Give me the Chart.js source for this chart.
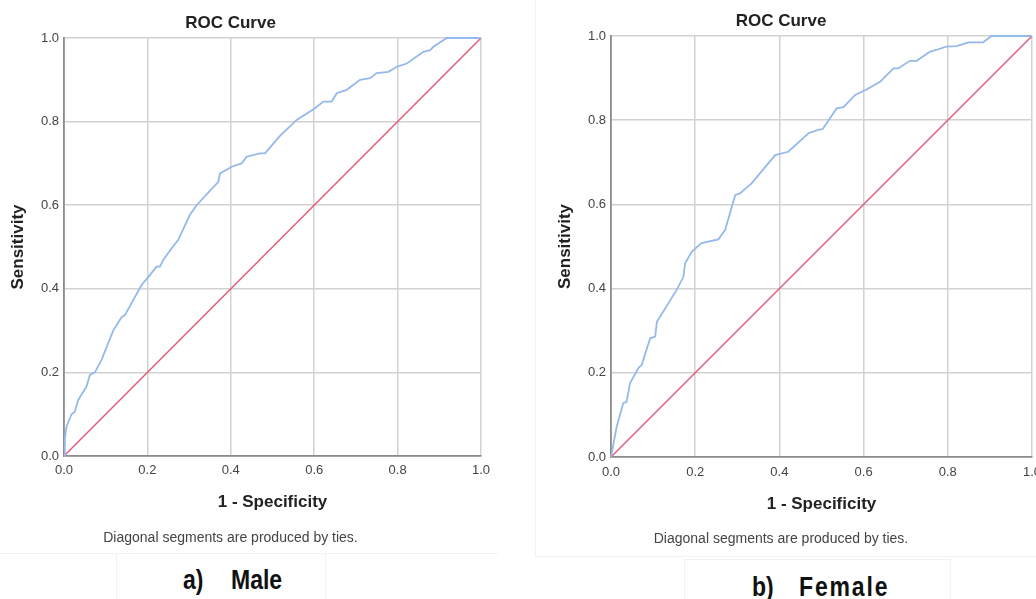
<!DOCTYPE html>
<html><head><meta charset="utf-8">
<script src="https://cdn.jsdelivr.net/npm/chart.js@4.4.0/dist/chart.umd.min.js"></script>
<style>
html,body{margin:0;padding:0;background:#fff;overflow:hidden;width:1036px;height:599px;}
body{position:relative;font-family:'Liberation Sans',Arial,sans-serif;}
.wrap{position:absolute;}
canvas{display:block;}
.cap{position:absolute;font-weight:bold;font-size:25px;line-height:30px;color:#111;white-space:pre;transform:scale(0.92,1.08);transform-origin:left center;}
.frame{position:absolute;border:1px solid #f2f2f2;}
</style></head><body>
<div class="frame" style="left:-2px;top:-2px;width:499px;height:554px;border-right:none;"></div>
<div class="frame" style="left:535px;top:-2px;width:510px;height:557px;"></div>
<div class="frame" style="left:116px;top:553px;width:208px;height:60px;"></div>
<div class="frame" style="left:684px;top:559px;width:265px;height:60px;"></div>
<div class="wrap" style="left:-20px;top:0;width:520px;height:550px;"><canvas id="male" width="520" height="550"></canvas></div>
<div class="wrap" style="left:530px;top:0;width:516px;height:556px;"><canvas id="female" width="516" height="556"></canvas></div>
<div class="cap" style="left:183px;top:564px;">a)</div>
<div class="cap" style="left:231px;top:564px;">Male</div>
<div class="cap" style="left:752px;top:571px;">b)</div>
<div class="cap" style="left:799px;top:571px;letter-spacing:2px;">Female</div>
<script>
// ---- data ----
const tickLabels = ['0.0', '0.2', '0.4', '0.6', '0.8', '1.0'];
const diagX = [0, 1];
const diagY = [0, 1];

const maleFPR = [0, 0.002, 0.006, 0.018, 0.026, 0.034, 0.054, 0.062, 0.074, 0.09, 0.118, 0.138, 0.146, 0.186, 0.202, 0.222, 0.23, 0.238, 0.258, 0.274, 0.302, 0.318, 0.37, 0.374, 0.402, 0.426, 0.438, 0.47, 0.482, 0.518, 0.558, 0.602, 0.622, 0.642, 0.654, 0.678, 0.71, 0.734, 0.75, 0.778, 0.798, 0.822, 0.862, 0.878, 0.886, 0.918, 1.0];
const maleTPR = [0, 0.04, 0.07, 0.10, 0.106, 0.134, 0.166, 0.194, 0.2, 0.23, 0.30, 0.332, 0.337, 0.409, 0.428, 0.453, 0.453, 0.469, 0.497, 0.517, 0.577, 0.6, 0.656, 0.676, 0.692, 0.70, 0.716, 0.724, 0.724, 0.766, 0.804, 0.832, 0.848, 0.848, 0.868, 0.876, 0.90, 0.904, 0.916, 0.919, 0.931, 0.939, 0.967, 0.971, 0.979, 1.0, 1.0];

const femaleFPR = [0, 0.0135, 0.029, 0.037, 0.045, 0.065, 0.073, 0.093, 0.105, 0.109, 0.156, 0.172, 0.176, 0.192, 0.215, 0.255, 0.271, 0.295, 0.306, 0.334, 0.39, 0.421, 0.469, 0.492, 0.503, 0.536, 0.552, 0.58, 0.607, 0.639, 0.671, 0.682, 0.71, 0.726, 0.758, 0.777, 0.797, 0.821, 0.849, 0.884, 0.904, 1.0];
const femaleTPR = [0, 0.072, 0.128, 0.131, 0.175, 0.211, 0.219, 0.282, 0.286, 0.321, 0.397, 0.428, 0.46, 0.488, 0.508, 0.517, 0.539, 0.622, 0.626, 0.65, 0.717, 0.725, 0.769, 0.777, 0.779, 0.828, 0.831, 0.86, 0.873, 0.891, 0.923, 0.923, 0.941, 0.941, 0.963, 0.968, 0.975, 0.976, 0.985, 0.985, 1.0, 1.0];

// ---- styles ----
const FONT = "'Liberation Sans', Arial, sans-serif";
const BLUE = '#94b9ea';
const RED = '#e2607f';
const GRID = '#d2d2d2';
const AXIS = '#8c8c8c';

function pts(xs, ys) { return xs.map((x, i) => ({ x: x, y: ys[i] })); }

function makeChart(id, fpr, tpr, g) {
  new Chart(document.getElementById(id), {
    type: 'scatter',
    data: {
      datasets: [
        { label: 'ROC', data: pts(fpr, tpr), showLine: true, borderColor: BLUE, borderWidth: 1.8, pointRadius: 0, tension: 0, fill: false, clip: 4 },
        { label: 'Reference', data: pts(diagX, diagY), showLine: true, borderColor: RED, borderWidth: 1.6, pointRadius: 0, tension: 0, fill: false, clip: 4 }
      ]
    },
    options: {
      responsive: false, animation: false, devicePixelRatio: 1,
      layout: { padding: { left: 0, right: g.padRight, top: 0, bottom: 0 } },
      plugins: {
        legend: { display: false },
        tooltip: { enabled: false },
        title: { display: true, text: 'ROC Curve', color: '#222', font: { family: FONT, size: 17, weight: 'bold' }, padding: { top: g.tTop, bottom: g.tBot } },
        subtitle: { display: true, position: 'bottom', text: 'Diagonal segments are produced by ties.', color: '#444', font: { family: FONT, size: 14 }, padding: { top: g.sTop, bottom: g.sBot } }
      },
      scales: {
        x: {
          type: 'linear', min: 0, max: 1,
          ticks: { stepSize: 0.2, callback: (v, i) => tickLabels[i], padding: g.xPad, color: '#444', font: { family: FONT, size: 13 }, maxRotation: 0, autoSkip: false },
          grid: { color: GRID, lineWidth: 1.5, drawTicks: false },
          border: { color: AXIS, width: 1.8 },
          title: { display: true, text: '1 - Specificity', color: '#222', font: { family: FONT, size: 17, weight: 'bold' }, padding: { top: 0, bottom: g.xtBot } },
          afterFit: s => { s.height = g.xH; s.paddingLeft = 0; s.paddingRight = 0; }
        },
        y: {
          type: 'linear', min: 0, max: 1,
          ticks: { stepSize: 0.2, callback: (v, i) => tickLabels[i], padding: 5, color: '#444', font: { family: FONT, size: 13 }, autoSkip: false },
          grid: { color: GRID, lineWidth: 1.5, drawTicks: false },
          border: { color: AXIS, width: 1.8 },
          title: { display: true, text: 'Sensitivity', color: '#222', font: { family: FONT, size: 17, weight: 'bold' }, padding: { top: g.ytTop, bottom: 0 } },
          afterFit: s => { s.width = g.yW; s.paddingTop = 0; s.paddingBottom = 0; }
        }
      }
    }
  });
}

makeChart('male', maleFPR, maleTPR, { padRight: 19, tTop: 13.3, tBot: 4.3, sTop: 11.6, sBot: 3.6, xPad: 6.2, xtBot: 5.3, xH: 62, yW: 84, ytTop: 27.8 });
makeChart('female', femaleFPR, femaleTPR, { padRight: 14, tTop: 11.5, tBot: 4.1, sTop: 11.1, sBot: 8.1, xPad: 7.7, xtBot: 5.8, xH: 63, yW: 81, ytTop: 24.8 });
</script>
</body></html>
